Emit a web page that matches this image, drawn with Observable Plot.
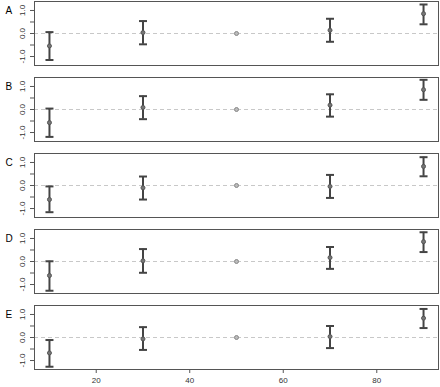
<!DOCTYPE html>
<html>
<head>
<meta charset="utf-8">
<script src="https://cdn.jsdelivr.net/npm/d3@7"></script>
<script src="https://cdn.jsdelivr.net/npm/@observablehq/plot@0.6"></script>
<style>
  html, body { margin: 0; padding: 0; background: #fff; }
  #chart svg { display: block; font-family: "Liberation Sans", Arial, sans-serif; }
</style>
</head>
<body>
<div id="chart"></div>
<script>
const panels = ["A", "B", "C", "D", "E"];
const xs = [10, 30, 50, 70, 90];
const xTicks = [20, 40, 60, 80];
const yTicks = [-1, -0.5, 0, 0.5, 1];
const yLabels = ["-1.0", "", "0.0", "", "1.0"];

const estA = [-0.54, 0.04, 0, 0.14, 0.86];
const loA  = [-1.15, -0.47, null, -0.36, 0.40];
const hiA  = [0.06, 0.54, null, 0.64, 1.26];

const estB = [-0.57, 0.09, 0, 0.19, 0.86];
const loB  = [-1.19, -0.42, null, -0.31, 0.42];
const hiB  = [0.04, 0.58, null, 0.66, 1.29];

const estC = [-0.61, -0.10, 0, -0.04, 0.83];
const loC  = [-1.16, -0.61, null, -0.54, 0.40];
const hiC  = [-0.04, 0.39, null, 0.46, 1.23];

const estD = [-0.61, 0.03, 0, 0.17, 0.86];
const loD  = [-1.27, -0.49, null, -0.32, 0.41];
const hiD  = [0.01, 0.54, null, 0.63, 1.27];

const estE = [-0.67, -0.06, 0, 0.04, 0.84];
const loE  = [-1.27, -0.54, null, -0.46, 0.41];
const hiE  = [-0.11, 0.45, null, 0.50, 1.24];

const series = {A: [estA, loA, hiA], B: [estB, loB, hiB], C: [estC, loC, hiC], D: [estD, loD, hiD], E: [estE, loE, hiE]};

const rows = [];
for (const p of panels) {
  const [est, lo, hi] = series[p];
  xs.forEach((x, i) => rows.push({panel: p, x, est: est[i], lo: lo[i], hi: hi[i]}));
}
const bars = rows.filter(d => d.lo != null);
const ref = rows.filter(d => d.lo == null);

const cap = {
  draw(context) {
    context.moveTo(-4, 0);
    context.lineTo(4, 0);
  }
};

const chart = Plot.plot({
  width: 440,
  height: 387,
  marginTop: 1,
  marginBottom: 17,
  marginLeft: 34,
  marginRight: 2,
  style: {fontFamily: "Liberation Sans, Arial, sans-serif", fontSize: "8px", background: "#fff"},
  x: {domain: [6.8, 93.2], label: null},
  y: {domain: [-1.39, 1.39], label: null},
  fy: {domain: panels, axis: null, paddingInner: 0.154, paddingOuter: 0, label: null},
  marks: [
    Plot.ruleY([0], {stroke: "#c8c8c8", strokeDasharray: "4,3", strokeWidth: 1}),
    Plot.frame({stroke: "#555", strokeWidth: 1}),
    Plot.axisX({ticks: xTicks, tickSize: 4, tickPadding: 4, stroke: "#555", color: "#333", fontSize: 8, label: null}),
    Plot.axisY({ticks: yTicks, tickSize: 4, tickPadding: 6, tickRotate: -90, stroke: "#555", color: "#333", fontSize: 8, label: null,
      tickFormat: d => yLabels[yTicks.indexOf(d)]}),
    Plot.ruleX(bars, {x: "x", y1: "lo", y2: "hi", fy: "panel", stroke: "#444", strokeWidth: 2}),
    Plot.dot(bars, {x: "x", y: "lo", fy: "panel", symbol: cap, fill: "none", stroke: "#444", strokeWidth: 2, r: 4}),
    Plot.dot(bars, {x: "x", y: "hi", fy: "panel", symbol: cap, fill: "none", stroke: "#444", strokeWidth: 2, r: 4}),
    Plot.dot(bars, {x: "x", y: "est", fy: "panel", r: 2, fill: "#777", stroke: "#555", strokeWidth: 1}),
    Plot.dot(ref, {x: "x", y: "est", fy: "panel", r: 2, fill: "#bbb", stroke: "#888", strokeWidth: 1}),
    Plot.text(panels, {fy: d => d, y: () => 1, text: d => d, frameAnchor: "left", dx: -29, fontSize: 10, fill: "#000"})
  ]
});
document.getElementById("chart").appendChild(chart);
</script>
</body>
</html>
